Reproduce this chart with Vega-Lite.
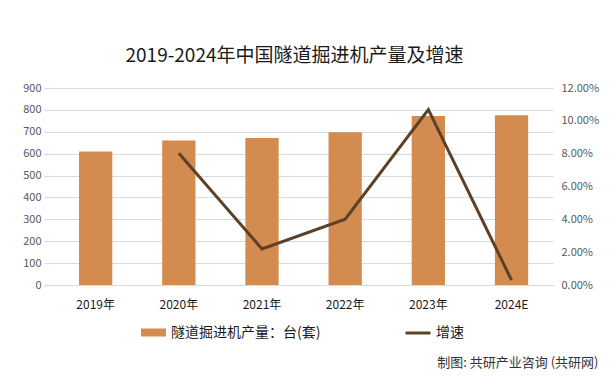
{
  "$schema": "https://vega.github.io/schema/vega-lite/v6.json",
  "autosize": "none",
  "width": 509,
  "height": 197,
  "padding": {"left": 44, "top": 88, "right": 62, "bottom": 102},
  "background": "white",
  "config": {
    "font": "Noto Sans CJK SC",
    "view": {"stroke": null}
  },
  "title": {
    "text": "2019-2024年中国隧道掘进机产量及增速",
    "fontSize": 19,
    "fontWeight": "normal",
    "color": "#1a1a1a",
    "anchor": "middle",
    "dx": -4,
    "offset": 16
  },
  "data": {
    "values": [
      {"year": "2019年", "output": 610, "growth": null},
      {"year": "2020年", "output": 660, "growth": 0.0803},
      {"year": "2021年", "output": 672, "growth": 0.022},
      {"year": "2022年", "output": 698, "growth": 0.0401},
      {"year": "2023年", "output": 772, "growth": 0.1068},
      {"year": "2024E", "output": 776, "growth": 0.003}
    ]
  },
  "encoding": {
    "x": {
      "field": "year",
      "type": "nominal",
      "sort": null,
      "scale": {"paddingInner": 0.6, "paddingOuter": 0.36, "align": 0.585},
      "axis": {
        "title": "制图: 共研产业咨询 (共研网)",
        "titleFontSize": 13,
        "titleFontWeight": "normal",
        "titleColor": "#333333",
        "titleAnchor": "end",
        "titleAlign": "right",
        "titleBaseline": "middle",
        "titleX": 554,
        "titleY": 77,
        "labelAngle": 0,
        "labelFontSize": 12,
        "labelColor": "#1a1a1a",
        "labelPadding": 14,
        "ticks": false,
        "domain": true,
        "domainColor": "#d9d9d9"
      }
    }
  },
  "layer": [
    {
      "mark": {"type": "bar", "color": "#D38B4F"},
      "encoding": {
        "y": {
          "field": "output",
          "type": "quantitative",
          "scale": {"domain": [0, 900]},
          "axis": {
            "title": null,
            "values": [0, 100, 200, 300, 400, 500, 600, 700, 800, 900],
            "labelFontSize": 11,
            "labelColor": "#595959",
            "labelPadding": 3,
            "ticks": false,
            "domain": false,
            "gridColor": "#d9d9d9"
          }
        },
        "fill": {
          "datum": "隧道掘进机产量：台(套)",
          "type": "nominal",
          "scale": {"range": ["#D38B4F"]},
          "legend": {
            "title": null,
            "orient": "none",
            "legendX": 96,
            "legendY": 231,
            "symbolType": "M-1,-0.32H1V0.32H-1Z",
            "symbolSize": 625,
            "labelFontSize": 14,
            "labelColor": "#1a1a1a",
            "labelLimit": 300
          }
        }
      }
    },
    {
      "transform": [{"filter": "datum.growth != null"}],
      "mark": {"type": "line", "color": "#5C4128", "strokeWidth": 3},
      "encoding": {
        "y": {
          "field": "growth",
          "type": "quantitative",
          "scale": {"domain": [0, 0.12]},
          "axis": {
            "title": null,
            "orient": "right",
            "format": ".2%",
            "values": [0, 0.02, 0.04, 0.06, 0.08, 0.1, 0.12],
            "labelFontSize": 11,
            "labelColor": "#595959",
            "labelPadding": 8,
            "ticks": false,
            "domain": false,
            "grid": false
          }
        },
        "stroke": {
          "datum": "增速",
          "type": "nominal",
          "scale": {"range": ["#5C4128"]},
          "legend": {
            "title": null,
            "orient": "none",
            "legendX": 360,
            "legendY": 231,
            "symbolType": "stroke",
            "symbolStrokeWidth": 3,
            "symbolSize": 625,
            "labelFontSize": 14,
            "labelColor": "#1a1a1a"
          }
        }
      }
    }
  ],
  "resolve": {"scale": {"y": "independent", "fill": "independent", "stroke": "independent"}}
}
